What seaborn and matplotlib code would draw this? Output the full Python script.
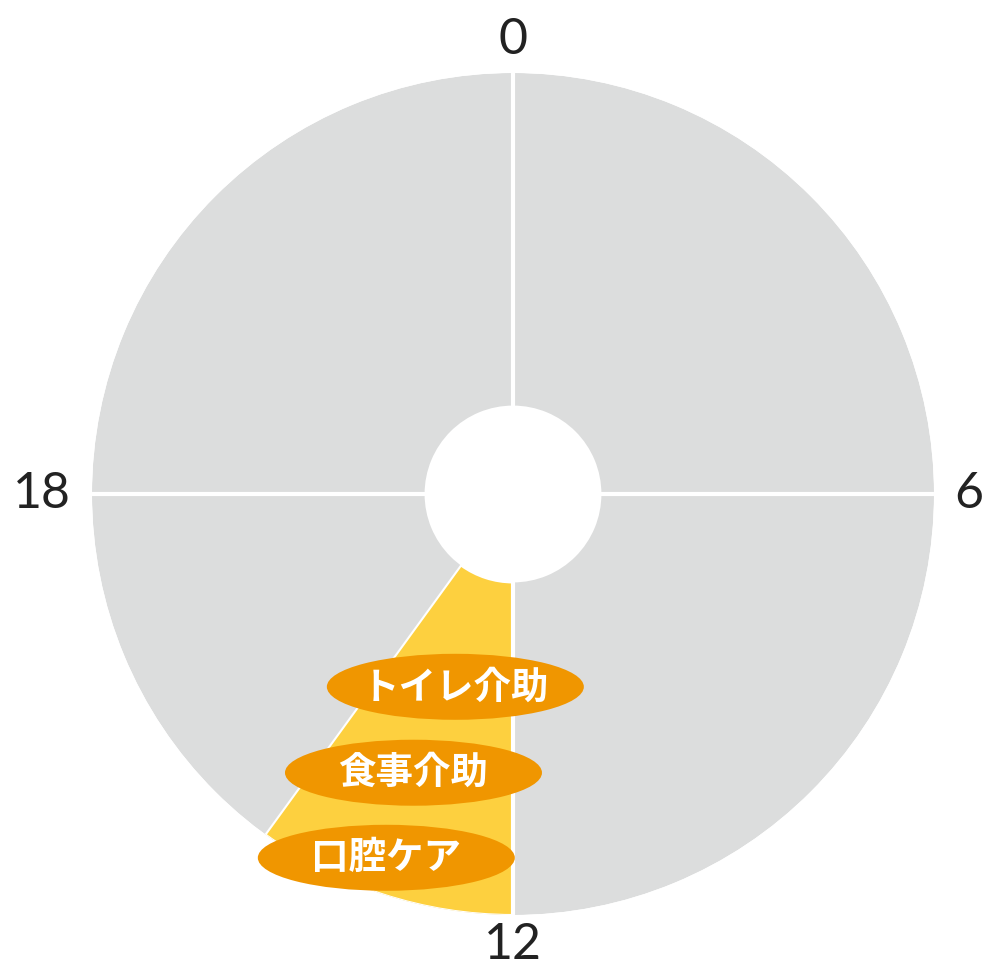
import numpy as np
import seaborn as sns
import matplotlib.pyplot as plt
from matplotlib.patches import Ellipse
from matplotlib import transforms

sns.set_theme(style="white")
plt.rcParams['font.family'] = ['Noto Sans CJK JP', 'DejaVu Sans']

# care period on the 24h clock
care_start = 12.0
care_end = 14.4
care_labels = ['トイレ介助', '食事介助', '口腔ケア']
# label anchor (hour, radius) inside the wedge
label_hours = [13.11, 13.31, 13.28]
label_radius = [0.478, 0.703, 0.915]

hour_ticks = [0, 6, 12, 18]
hour_ticklabels = ['0', '6', '12', '18']
# radius where each hour label sits (outside the ring)
hour_label_r = [1.078, 1.083, 1.072, 1.12]

grey = '#dcdddd'
yellow = '#fdd03f'
orange = '#f09600'

r_in = 0.21
r_out = 1.0

def h2t(h):
    return np.asarray(h) / 24 * 2 * np.pi

fig = plt.figure(figsize=(9.87, 9.68), dpi=100)
cx, cy, R = 513, 494, 421
ax = fig.add_axes([(cx - R) / 987, 1 - (cy + R) / 968, 2 * R / 987, 2 * R / 968],
                  projection='polar')
ax.set_theta_zero_location('N')
ax.set_theta_direction(-1)
ax.set_ylim(0, r_out)

# grey clock ring
ax.bar(0, r_out - r_in, width=2 * np.pi, bottom=r_in, color=grey, align='edge',
       linewidth=0)
# care period wedge
ax.bar(h2t(care_start), r_out - r_in, width=h2t(care_end - care_start), bottom=r_in,
       color=yellow, align='edge', edgecolor='white', linewidth=1.5)

# white hour dividers
for h in hour_ticks:
    ax.plot([h2t(h), h2t(h)], [r_in, r_out], color='white', lw=3, solid_capstyle='butt')

ax.grid(False)
ax.spines['polar'].set_visible(False)
ax.set_yticks([])
ax.set_xticks(h2t(hour_ticks))
ax.set_xticklabels([])
for h, lab, r in zip(hour_ticks, hour_ticklabels, hour_label_r):
    ax.text(h2t(h), r, lab, ha='center', va='center', fontsize=36,
            family=['Lato', 'DejaVu Sans'], color='#222222', clip_on=False)

# orange oval labels
fig.canvas.draw()
for lab, h, r in zip(care_labels, label_hours, label_radius):
    px, py = ax.transData.transform((h2t(h), r))
    tr = transforms.Affine2D().translate(px, py)
    ax.add_artist(Ellipse((0, 0), 257, 66, transform=tr, facecolor=orange,
                          edgecolor='none', clip_on=False, zorder=5))
    ax.text(h2t(h), r, lab, ha='center', va='center', fontsize=27,
            fontweight='bold', color='white', zorder=6)

fig.savefig('out.png', dpi=100)
